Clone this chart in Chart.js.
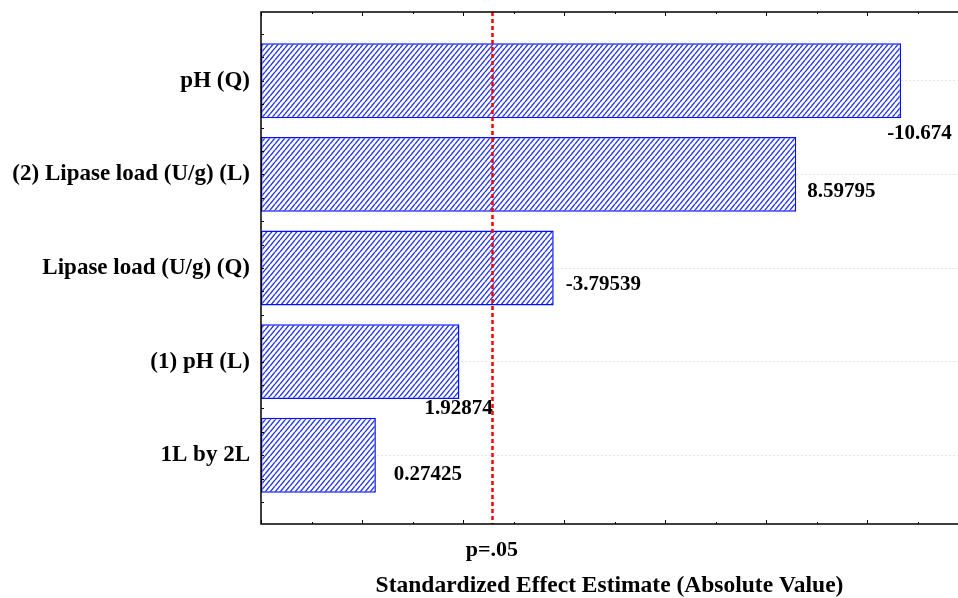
<!DOCTYPE html>
<html>
<head>
<meta charset="utf-8">
<title>Pareto Chart of Standardized Effects</title>
<script src="https://cdn.jsdelivr.net/npm/chart.js@4.4.1/dist/chart.umd.min.js"></script>
<style>
  html, body { margin: 0; padding: 0; background: #fff; }
  #wrap { width: 958px; height: 598px; }
</style>
</head>
<body>
<div id="wrap"><canvas id="paretoChart" width="958" height="598"></canvas></div>
<script>
// Pareto order, top to bottom
const factors = ["pH (Q)", "(2) Lipase load (U/g) (L)", "Lipase load (U/g) (Q)", "(1) pH (L)", "1L by 2L"];
const effects = [-10.674, 8.59795, -3.79539, 1.92874, 0.27425];
const pCritical = 2.5706; // t(0.975, 5)
const pLabel = "p=.05";
const axisTitle = "Standardized Effect Estimate (Absolute Value)";

// value label offset from bar end / bar centre, in px
const labelNudge = [[-14, 53], [11, 17], [12, 17], [-35, 47], [18, 19]];

const X_MIN = -2, X_MAX = 11.8;
const Y_MIN = 0.265, Y_MAX = 5.735;
const serif = "'Liberation Serif', 'Times New Roman', serif";

// blue diagonal hatch fill
function makeHatch() {
  const w = 5, h = 6;
  const c = document.createElement("canvas");
  c.width = w;
  c.height = h;
  const g = c.getContext("2d");
  g.fillStyle = "#ffffff";
  g.fillRect(0, 0, w, h);
  g.strokeStyle = "#2536f0";
  g.lineWidth = 1.4;
  for (let k = -1; k <= 1; k++) {
    g.beginPath();
    g.moveTo(k * w, h);
    g.lineTo(k * w + w, 0);
    g.stroke();
  }
  return g.createPattern(c, "repeat");
}

// frame, inward ticks, critical line and value labels
const paretoDecor = {
  id: "paretoDecor",
  afterDatasetsDraw(chart) {
    const { ctx, chartArea: a, scales: { x } } = chart;
    ctx.save();

    // p=.05 line
    const px = Math.round(x.getPixelForValue(pCritical)) + 0.5;
    ctx.strokeStyle = "#ff0000";
    ctx.lineWidth = 2.5;
    ctx.setLineDash([4, 3]);
    ctx.beginPath();
    ctx.moveTo(px, a.top);
    ctx.lineTo(px, a.bottom);
    ctx.stroke();
    ctx.setLineDash([]);

    // effect values next to the bars
    const meta = chart.getDatasetMeta(0);
    ctx.font = "bold 21px " + serif;
    ctx.fillStyle = "#000";
    ctx.textAlign = "left";
    ctx.textBaseline = "middle";
    meta.data.forEach((bar, i) => {
      ctx.fillText(String(effects[i]), bar.x + labelNudge[i][0], bar.y + labelNudge[i][1]);
    });
    ctx.restore();
  },
  afterDraw(chart) {
    const { ctx, chartArea: a, scales: { x, y } } = chart;
    ctx.save();
    ctx.strokeStyle = "#000";
    ctx.lineWidth = 1.5;

    ctx.beginPath();
    ctx.moveTo(a.right, a.top);
    ctx.lineTo(a.left, a.top);
    ctx.lineTo(a.left, a.bottom);
    ctx.lineTo(a.right, a.bottom);
    ctx.stroke();

    ctx.lineWidth = 1;
    ctx.beginPath();
    for (let v = X_MIN; v <= X_MAX; v++) {
      const tx = Math.round(x.getPixelForValue(v)) + 0.5;
      const len = v % 2 === 0 ? 4 : 2;
      ctx.moveTo(tx, a.bottom);
      ctx.lineTo(tx, a.bottom - len);
      ctx.moveTo(tx, a.top);
      ctx.lineTo(tx, a.top + len);
    }
    for (let v = 0.5; v <= 5.5; v += 0.25) {
      const ty = Math.round(y.getPixelForValue(v)) + 0.5;
      ctx.moveTo(a.left, ty);
      ctx.lineTo(a.left + 3, ty);
    }
    ctx.stroke();
    ctx.restore();
  }
};

const ctx = document.getElementById("paretoChart").getContext("2d");

const paretoChart = new Chart(ctx, {
  type: "bar",
  data: {
    datasets: [
      {
        data: effects.map((e, i) => ({ x: Math.abs(e), y: i + 1 })),
        base: X_MIN,
        backgroundColor: makeHatch(),
        borderColor: "#0010ff",
        borderWidth: 1.5,
        borderSkipped: false,
        categoryPercentage: 1,
        barPercentage: 0.8,
      },
    ],
  },
  options: {
    indexAxis: "y",
    responsive: false,
    animation: false,
    layout: { padding: { top: 12, right: 0, bottom: 0, left: 0 } },
    scales: {
      x: {
        type: "linear",
        position: "bottom",
        min: X_MIN,
        max: X_MAX,
        grid: { display: false, drawTicks: false },
        border: { display: false },
        afterBuildTicks: (scale) => {
          scale.ticks = [{ value: pCritical }];
        },
        afterFit: (scale) => {
          scale.height = 74;
          scale.paddingLeft = 0;
          scale.paddingRight = 0;
        },
        ticks: {
          callback: () => pLabel,
          autoSkip: false,
          maxRotation: 0,
          padding: 15,
          color: "#000",
          font: { family: serif, size: 22, weight: "bold", lineHeight: 1 },
        },
        title: {
          display: true,
          text: axisTitle,
          color: "#000",
          padding: { top: 0, bottom: 0 },
          font: { family: serif, size: 23.5, weight: "bold", lineHeight: 1 },
        },
      },
      y: {
        type: "linear",
        reverse: true,
        offset: false,
        min: Y_MIN,
        max: Y_MAX,
        afterFit: (scale) => {
          scale.width = 261;
          scale.paddingTop = 0;
          scale.paddingBottom = 0;
        },
        grid: {
          offset: false,
          color: "#e6e6e6",
          lineWidth: 1,
          drawTicks: false,
        },
        border: { display: false, dash: [2, 2] },
        ticks: {
          stepSize: 1,
          includeBounds: false,
          autoSkip: false,
          padding: 11,
          color: "#000",
          font: { family: serif, size: 23, weight: "bold" },
          callback: (v) => (Number.isInteger(v) ? factors[v - 1] : ""),
        },
      },
    },
    plugins: {
      legend: { display: false },
      tooltip: { enabled: false },
    },
  },
  plugins: [paretoDecor],
});
</script>
</body>
</html>
